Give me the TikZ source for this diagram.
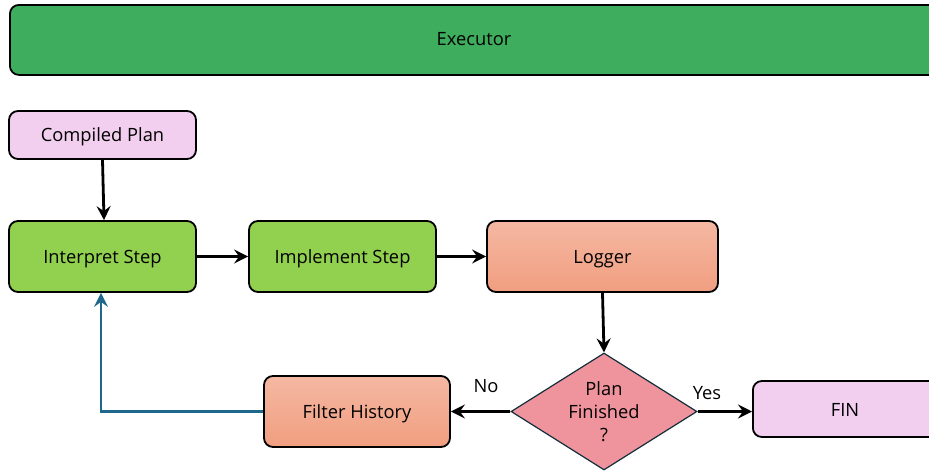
\documentclass[tikz,border=0pt]{standalone}
\usepackage{fontspec}
\setmainfont{Open Sans}
\usetikzlibrary{arrows.meta,shapes.geometric,positioning}
\definecolor{execgreen}{RGB}{62,173,93}
\definecolor{lightgreen}{RGB}{146,208,80}
\definecolor{pinkbox}{RGB}{242,206,239}
\definecolor{salmontop}{RGB}{244,184,162}
\definecolor{salmonbot}{RGB}{241,158,128}
\definecolor{diamondfill}{RGB}{239,148,156}
\definecolor{loopblue}{RGB}{30,104,140}
\definecolor{diamondedge}{RGB}{20,45,60}
\tikzset{
  box/.style={draw=black, line width=1.8pt, rounded corners=9pt, align=center, font=\fontsize{18.3}{21}\selectfont, inner sep=0pt, text depth=0pt},
  greenbox/.style={box, fill=lightgreen},
  pinkb/.style={box, fill=pinkbox},
  salmonb/.style={box, top color=salmontop, bottom color=salmonbot},
  conn/.style={draw=black, line width=2.8pt, -{Stealth[length=14pt,width=14pt,inset=5pt]}},
  lbl/.style={font=\fontsize{18.3}{21}\selectfont},
}
\begin{document}
\begin{tikzpicture}[x=1pt,y=-1pt]
\useasboundingbox (0,0) rectangle (929,472);
\clip (0,0) rectangle (929,472);
\node[box, fill=execgreen, minimum width=940pt, minimum height=70pt, anchor=north west] (exec) at (9,4) {};
\node[lbl] (execlbl) at (474,39.5) {Executor};
\node[pinkb, minimum width=187pt, minimum height=48pt] (plan) at (102.5,135) {Compiled Plan};
\node[greenbox, minimum width=187pt, minimum height=71pt] (interp) at (102.5,256.5) {Interpret Step};
\node[greenbox, minimum width=187pt, minimum height=71pt] (impl) at (342.5,256.5) {Implement Step};
\node[salmonb, minimum width=231pt, minimum height=71pt] (logger) at (602.5,256.5) {Logger};
\node[diamond, draw=diamondedge, line width=1.2pt, fill=diamondfill, minimum width=186pt, minimum height=117pt, inner sep=0pt] (dec) at (604,411.5) {};
\node[align=center, font=\fontsize{18.3}{23}\selectfont] (declbl) at (604,412) {Plan\\Finished\\?};
\node[salmonb, minimum width=186pt, minimum height=71pt] (filt) at (357,411.5) {Filter History};
\node[pinkb, minimum width=200pt, minimum height=56pt, anchor=west] (fin) at (752,409) {};
\node[lbl] (finlbl) at (845,409.5) {FIN};
\draw[conn] (plan.south) -- ([xshift=1.5pt]interp.north);
\draw[conn] (interp.east) -- (impl.west);
\draw[conn] (impl.east) -- (logger.west);
\draw[conn] (logger.south) -- (dec.north);
\draw[conn] (dec.west) -- (filt.east);
\draw[conn] (dec.east) -- (dec.east -| fin.west);
\draw[line width=2.8pt, draw=loopblue, -{Stealth[length=14pt,width=14pt,inset=5pt]}] (filt.west) -| ([xshift=-1.5pt]interp.south);
\node[lbl] (nolbl) at (486,386) {No};
\node[lbl] (yeslbl) at (707,393) {Yes};
\end{tikzpicture}
\end{document}
